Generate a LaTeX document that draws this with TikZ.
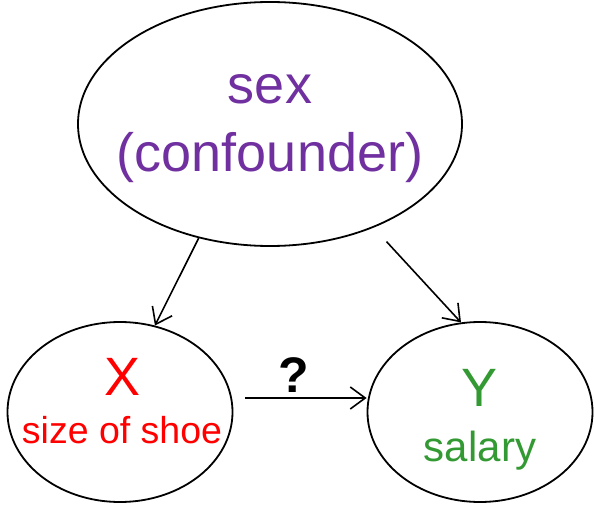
\documentclass[tikz,border=0pt]{standalone}
\usepackage{fontspec}
\setmainfont{Liberation Sans}
\usetikzlibrary{arrows.meta,shapes.geometric}

\definecolor{confpurple}{HTML}{7030A0}
\definecolor{salgreen}{HTML}{339933}

\tikzset{
  blob/.style={draw,ellipse,line width=1.8pt,inner sep=0pt},
  arr/.style={line width=1.6pt,-{Straight Barb[length=15pt,width=22pt]}},
  big/.style={font=\fontsize{54pt}{60pt}\selectfont,anchor=base},
}

\begin{document}
\begin{tikzpicture}[x=1pt,y=1pt]
    \useasboundingbox (0,0) rectangle (594,504);

    % the three variables
    \node[blob,minimum width=384pt,minimum height=244pt] (sex) at (270,380) {};
    \node[blob,minimum width=225pt,minimum height=180pt] (shoe) at (120,92) {};
    \node[blob,minimum width=225pt,minimum height=180pt] (salary) at (480,92) {};

    \node[big,confpurple] (sexname) at ([yshift=20pt]sex.center) {sex};
    \node[big,confpurple] (sexrole) at ([yshift=-48pt]sex.center) {(confounder)};
    \node[big,red] (xname) at ([xshift=3pt,yshift=17pt]shoe.center) {X};
    \node[red,anchor=base,font=\fontsize{37.5pt}{40pt}\selectfont] (xrole)
      at ([xshift=2pt,yshift=-31pt]shoe.center) {size of shoe};
    \node[big,salgreen] (yname) at ([yshift=6pt]salary.center) {Y};
    \node[salgreen,anchor=base,font=\fontsize{42pt}{46pt}\selectfont] (yrole)
      at ([yshift=-49pt]salary.center) {salary};

    % causal arrows
    \draw[arr] (sex.238) -- (shoe.68);
    \draw[arr,shorten <=19pt] (sex.315) -- (salary.102);
    \draw[arr,shorten <=12pt] ([yshift=14pt]shoe.east) -- ([yshift=14pt]salary.west)
      node[pos=0.45,above,inner sep=5pt,font=\fontsize{50pt}{54pt}\bfseries\selectfont] (q) {?};
\end{tikzpicture}
\end{document}
